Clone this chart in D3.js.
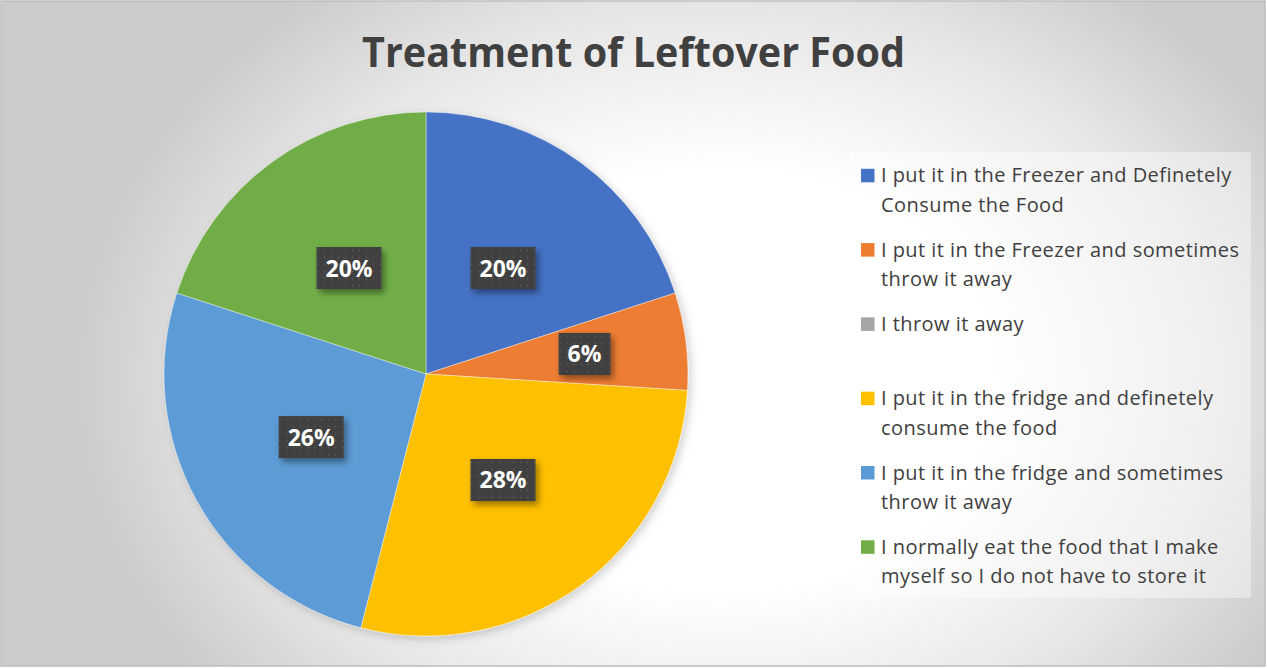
<!DOCTYPE html>
<html>
<head>
<meta charset="utf-8">
<script src="https://cdn.jsdelivr.net/npm/d3@7"></script>
<style>
  html, body { margin: 0; padding: 0; background: #ffffff; }
  svg { display: block; }
</style>
</head>
<body>
<svg id="chart" width="1267" height="668"></svg>
<script>
// ---- data ----
const chartTitle = "Treatment of Leftover Food";
const categories = [
  "I put it in the Freezer and Definetely Consume the Food",
  "I put it in the Freezer and sometimes throw it away",
  "I throw it away",
  "I put it in the fridge and definetely consume the food",
  "I put it in the fridge and sometimes throw it away",
  "I normally eat the food that I make myself so I do not have to store it"
];
const shares = [20, 6, 0, 28, 26, 20];   // percent of respondents
const sliceColors = ["#4472C4", "#ED7D31", "#A5A5A5", "#FFC000", "#5B9BD5", "#70AD47"];

// ---- layout ----
const W = 1267, H = 668;
const cx = 426, cy = 374, R = 262;
const textColor = "#404040";
const font = "'Open Sans', 'DejaVu Sans', sans-serif";

const svg = d3.select("#chart");
const defs = svg.append("defs");

// chart background: soft radial grey fill
const bg = defs.append("radialGradient")
  .attr("id", "bgFill")
  .attr("gradientUnits", "userSpaceOnUse")
  .attr("cx", 0).attr("cy", 0).attr("r", 1)
  .attr("gradientTransform", "translate(720,380) scale(650,500)");
bg.append("stop").attr("offset", 0).attr("stop-color", "#ffffff");
bg.append("stop").attr("offset", 0.42).attr("stop-color", "#ffffff");
bg.append("stop").attr("offset", 0.75).attr("stop-color", "#e6e6e6");
bg.append("stop").attr("offset", 1).attr("stop-color", "#cbcbcb");

// dotted fill for the data label boxes
const dots = defs.append("pattern")
  .attr("id", "labelDots")
  .attr("patternUnits", "userSpaceOnUse")
  .attr("width", 7).attr("height", 7);
dots.append("rect").attr("width", 7).attr("height", 7).attr("fill", "#3f3f3f");
dots.append("circle").attr("cx", 3.5).attr("cy", 3.5).attr("r", 0.9).attr("fill", "#575757");

const labelShadow = defs.append("filter")
  .attr("id", "labelShadow")
  .attr("x", "-30%").attr("y", "-30%").attr("width", "170%").attr("height", "170%");
labelShadow.append("feDropShadow")
  .attr("dx", 3).attr("dy", 4).attr("stdDeviation", 3)
  .attr("flood-color", "#000").attr("flood-opacity", 0.4);

const pieShadow = defs.append("filter")
  .attr("id", "pieShadow")
  .attr("x", "-10%").attr("y", "-10%").attr("width", "125%").attr("height", "125%");
pieShadow.append("feDropShadow")
  .attr("dx", 3).attr("dy", 3).attr("stdDeviation", 4)
  .attr("flood-color", "#000").attr("flood-opacity", 0.18);

svg.append("rect")
  .attr("x", 1).attr("y", 1)
  .attr("width", W - 3).attr("height", H - 3)
  .attr("fill", "url(#bgFill)")
  .attr("stroke", "#bdbdbd").attr("stroke-width", 1.5);

// ---- title ----
svg.append("text")
  .attr("x", W / 2).attr("y", 66.5)
  .attr("text-anchor", "middle")
  .attr("font-family", font)
  .attr("font-weight", 700)
  .attr("font-size", 42)
  .attr("fill", textColor)
  .attr("textLength", 543)
  .attr("lengthAdjust", "spacingAndGlyphs")
  .text(chartTitle);

// ---- pie ----
const rows = categories.map((c, i) => ({ name: c, value: shares[i], color: sliceColors[i] }));
const pie = d3.pie().sort(null).value(d => d.value).startAngle(0).endAngle(2 * Math.PI);
const arcs = pie(rows);
const arc = d3.arc().innerRadius(0).outerRadius(R);

const g = svg.append("g").attr("transform", `translate(${cx},${cy})`);
g.append("g").attr("filter", "url(#pieShadow)")
  .selectAll("path")
  .data(arcs.filter(a => a.data.value > 0))
  .join("path")
  .attr("d", arc)
  .attr("fill", d => d.data.color)
  .attr("stroke", "#ffffff")
  .attr("stroke-opacity", 0.5)
  .attr("stroke-width", 0.8);

// ---- data labels ----
const fmt = d3.format(".0%");
const total = d3.sum(shares);
const labelArc = d => {
  const span = d.endAngle - d.startAngle;
  const r = span < 0.5 ? R * 0.61 : R * 0.5;
  return d3.arc().innerRadius(r).outerRadius(r).centroid(d);
};
const labels = g.selectAll("g.lbl")
  .data(arcs.filter(a => a.data.value > 0))
  .join("g")
  .attr("class", "lbl")
  .attr("transform", d => { const [x, y] = labelArc(d); return `translate(${x},${y})`; });

labels.each(function(d) {
  const sel = d3.select(this);
  const box = sel.append("rect").attr("fill", "url(#labelDots)").attr("filter", "url(#labelShadow)");
  const t = sel.append("text")
    .attr("text-anchor", "middle")
    .attr("y", 8.5)
    .attr("font-family", font)
    .attr("font-weight", 700)
    .attr("font-size", 23)
    .attr("fill", "#ffffff")
    .text(fmt(d.data.value / total));
  const w = t.node().getComputedTextLength();
  const bw = w + 18, bh = 42;
  box.attr("x", -bw / 2).attr("y", -bh / 2).attr("width", bw).attr("height", bh);
});

// ---- legend ----
const legX = 850, legY = 152, legW = 401, legH = 446;
svg.append("rect")
  .attr("x", legX).attr("y", legY)
  .attr("width", legW).attr("height", legH)
  .attr("fill", "#ffffff").attr("fill-opacity", 0.4);

const legendFontSize = 20;
const legendSpacing = 0.45;
const wrapWidth = 372;
const measurer = svg.append("text")
  .attr("font-family", font).attr("font-size", legendFontSize)
  .attr("letter-spacing", legendSpacing)
  .attr("visibility", "hidden");
function wrap(str) {
  const words = str.split(" ");
  const lines = [];
  let cur = "";
  for (const w of words) {
    const test = cur ? cur + " " + w : w;
    measurer.text(test);
    if (measurer.node().getComputedTextLength() > wrapWidth && cur) {
      lines.push(cur);
      cur = w;
    } else {
      cur = test;
    }
  }
  if (cur) lines.push(cur);
  return lines;
}

const itemStep = 74.3, firstBaseline = 182.3, lineStep = 29.7;
const items = svg.append("g").selectAll("g")
  .data(rows)
  .join("g")
  .attr("transform", (d, i) => `translate(0,${firstBaseline + i * itemStep})`);

items.append("rect")
  .attr("x", 861).attr("y", -13.5)
  .attr("width", 13.5).attr("height", 13.5)
  .attr("fill", d => d.color);

items.append("text")
  .attr("font-family", font)
  .attr("font-size", legendFontSize)
  .attr("letter-spacing", legendSpacing)
  .attr("fill", textColor)
  .each(function(d) {
    const t = d3.select(this);
    wrap(d.name).forEach((line, k) => {
      t.append("tspan").attr("x", 881).attr("y", k * lineStep).text(line);
    });
  });
measurer.remove();
</script>
</body>
</html>
